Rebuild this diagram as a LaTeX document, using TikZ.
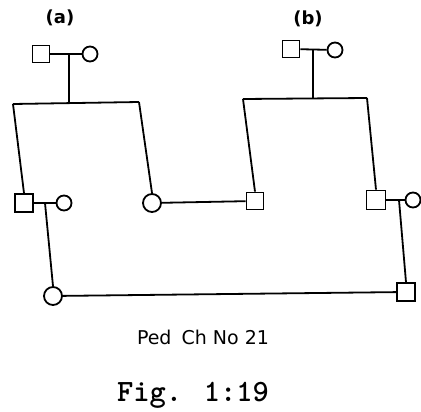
\documentclass[tikz,border=0pt]{standalone}
\usepackage{fontspec}
\setsansfont{DejaVu Sans}

\begin{document}
\begin{tikzpicture}[x=1pt,y=-1pt,line width=1.8pt,
  male/.style={draw,rectangle,minimum size=17pt,inner sep=0pt},
  female/.style={draw,circle,minimum size=15pt,inner sep=0pt}]
\useasboundingbox (0,0) rectangle (421,412);
% family (a)
\node (laba) at (60,18) {\sffamily\bfseries\fontsize{18}{20}\selectfont (a)};
\node[male] (fa) at (41,54) {};
\node[female] (ma) at (90,54) {};
\coordinate (ja) at (69,54);
\coordinate (sa) at (69,103);
\coordinate (sa1) at (13,104);
\coordinate (sa2) at (139,102);
\draw (fa) -- (ma);
\draw (ja) -- (sa);
\draw (sa1) -- (sa2);
\node[male,minimum size=18pt] (a1) at (24,203) {};
\node[female] (wa1) at (64,203) {};
\node[female,minimum size=18pt] (a2) at (152,203) {};
\coordinate (ja1) at (45,203);
\draw (sa1) -- (a1.north);
\draw (sa2) -- (a2.north);
\draw (a1) -- (wa1);
% family (b)
\node (labb) at (308,19) {\sffamily\bfseries\fontsize{18}{20}\selectfont (b)};
\node[male] (fb) at (291,49) {};
\node[female] (mb) at (335,50) {};
\coordinate (jb) at (313,50);
\coordinate (sb) at (313,98);
\coordinate (sb1) at (243,99);
\coordinate (sb2) at (367,98);
\draw (fb) -- (mb);
\draw (jb) -- (sb);
\draw (sb1) -- (sb2);
\node[male] (b1) at (255,201) {};
\node[male,minimum size=19pt] (b2) at (376,200) {};
\node[female] (wb2) at (413,200) {};
\coordinate (jb2) at (399,200);
\draw (sb1) -- (b1.north);
\draw (sb2) -- (b2.north);
\draw (b2) -- (wb2);
\draw (a2) -- (b1);
% cousin marriage
\node[female,minimum size=18pt] (c1) at (53,296) {};
\node[male,minimum size=18pt] (d1) at (406,292) {};
\draw (ja1) -- (c1.north);
\draw (jb2) -- (d1.north);
\draw (c1) -- (d1);
% captions
\node (ped) at (203,337) {\sffamily\fontsize{19}{22}\selectfont Ped\hspace{4pt} Ch No 21};
\node (fig) at (193,395) {\ttfamily\bfseries\fontsize{31}{34}\selectfont Fig. 1:19};
\end{tikzpicture}
\end{document}
